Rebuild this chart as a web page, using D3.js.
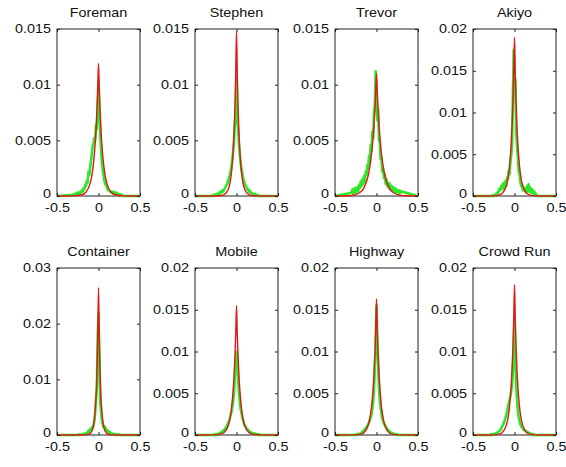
<!DOCTYPE html>
<html>
  <head>
    <style>
      body {
        margin: 0;
        background: #fff;
      }
      svg {
        display: block;
        font-family: "Liberation Sans", Arial, sans-serif;
      }
      .box {
        fill: #fff;
        stroke: #222;
        stroke-width: 1px;
      }
      .hist {
        fill: none;
        stroke: #2be82b;
        stroke-width: 2.6px;
        stroke-linejoin: round;
      }
      .fit {
        fill: none;
        stroke: #e01818;
        stroke-width: 1.4px;
      }
      .axis path {
        display: none;
      }
      .axis line {
        stroke: #222;
      }
      .axis text {
        font-size: 12px;
        fill: #111;
      }
      .title {
        font-size: 12px;
        fill: #111;
      }
    </style>
  </head>
  <body>
    <script src="https://d3js.org/d3.v7.min.js"></script>
    <script>
      const W = 566, H = 467;

      const titles = ["Foreman", "Stephen", "Trevor", "Akiyo", "Container", "Mobile", "Highway", "Crowd Run"];
      const yMax = [0.015, 0.015, 0.015, 0.02, 0.03, 0.02, 0.02, 0.02];
      const yStep = [0.005, 0.005, 0.005, 0.005, 0.01, 0.005, 0.005, 0.005];
      const xTicks = [-0.5, 0, 0.5];

      // histogram bins: -0.30 .. 0.30 in steps of 0.01, values in units of 1e-4
      const binX = d3.range(-30, 31).map(i => i / 100);

      const foremanHist = [1,2,1,2,3,2,3,2,4,3, 5,4,7,6,10,9,14,12,22,19, 26,31,38,45,47,52,50,64,60,82, 104,
        80,58,42,31,24,19,14,11,10, 8,6,5,5,4,4,3,3,4,2, 3,2,3,1,2,1,1,1,1,0,0];
      const stephenHist = [0,0,1,0,1,1,2,1,2,3, 2,4,3,5,4,6,7,8,10,11, 14,16,19,23,27,33,40,50,64,72, 106,
        66,60,46,37,30,24,20,16,13, 11,9,8,6,6,4,5,3,3,2, 2,1,2,1,1,0,1,0,0,0,0];
      const trevorHist = [3,6,2,5,7,3,6,8,4,10, 7,13,9,15,11,18,13,22,19,28, 24,36,30,46,40,58,52,74,82,112, 92,
        68,78,50,48,33,34,22,25,16, 20,11,15,9,12,7,11,6,9,5, 8,4,7,3,6,4,5,2,5,3,4];
      const akiyoHist = [0,0,0,0,1,0,1,2,1,4, 3,6,9,7,12,10,15,8,14,18, 12,22,20,30,26,40,48,62,115,175, 142,
        140,75,62,48,30,26,18,12,14, 7,10,6,9,4,12,6,14,5,10, 4,8,3,6,2,4,1,1,0,0,0];
      const containerHist = [0,0,0,0,0,0,1,0,0,1, 1,1,2,1,3,2,4,5,8,6, 10,9,14,12,18,25,40,65,82,175, 218,
        150,60,45,28,20,14,16,10,12, 7,8,5,6,3,4,2,2,1,2, 1,0,1,0,0,1,0,0,0,0,0];
      const mobileHist = [0,0,0,0,1,0,1,1,1,2, 2,3,3,4,5,6,7,9,10,12, 14,17,20,24,28,33,41,52,68,85, 100,
        86,66,50,40,31,26,21,17,14, 11,10,8,7,6,5,4,3,3,2, 2,1,2,1,1,1,0,1,0,0,0];
      const highwayHist = [0,0,0,0,0,1,0,1,1,1, 2,2,3,3,5,5,7,8,10,11, 13,15,18,21,25,32,40,55,80,110, 155,
        112,82,56,42,33,26,20,16,14, 12,10,9,7,6,5,4,3,3,2, 2,1,1,1,0,1,0,0,0,0,0];
      const crowdHist = [0,0,1,0,1,1,1,2,2,3, 3,4,5,6,8,10,12,14,17,20, 24,28,33,38,42,46,52,60,75,98, 140,
        92,60,42,30,22,17,13,11,9, 8,6,6,5,4,4,3,3,2,2, 1,1,0,1,0,0,0,0,0,0,0];

      // fitted curve, sampled at fitX, values in units of 1e-4
      const fitX = [-0.5, -0.3, -0.2, -0.15, -0.1, -0.08, -0.06, -0.04, -0.03, -0.02, -0.01, 0,
        0.01, 0.02, 0.03, 0.04, 0.06, 0.08, 0.1, 0.15, 0.2, 0.3, 0.5];
      const foremanFit = [0, 0.1, 1.1, 3.6, 11.6, 18.5, 29.5, 47, 59, 75, 94, 119, 94, 75, 59, 47, 29.5, 18.5, 11.6, 3.6, 1.1, 0.1, 0];
      const stephenFit = [0, 0, 0.2, 1.2, 5.9, 11.2, 21.4, 41, 56, 78, 107, 148, 107, 78, 56, 41, 21.4, 11.2, 5.9, 1.2, 0.2, 0, 0];
      const trevorFit = [0, 0.5, 3.1, 7.5, 18.4, 26.4, 37.7, 54, 64, 77, 92, 110, 92, 77, 64, 54, 37.7, 26.4, 18.4, 7.5, 3.1, 0.5, 0];
      const akiyoFit = [0, 0, 0.7, 2.9, 11.8, 20.6, 36, 62, 83, 109, 144, 190, 144, 109, 83, 62, 36, 20.6, 11.8, 2.9, 0.7, 0, 0];
      const containerFit = [0, 0, 0, 0.3, 2.8, 7.0, 17.3, 43, 68, 107, 168, 265, 168, 107, 68, 43, 17.3, 7.0, 2.8, 0.3, 0, 0, 0];
      const mobileFit = [0, 0.1, 0.8, 3.0, 11.1, 18.9, 32, 54, 70, 92, 119, 155, 119, 92, 70, 54, 32, 18.9, 11.1, 3.0, 0.8, 0.1, 0];
      const highwayFit = [0, 0.1, 0.8, 3.1, 11.7, 19.9, 33.6, 57, 74, 96, 125, 163, 125, 96, 74, 57, 33.6, 19.9, 11.7, 3.1, 0.8, 0.1, 0];
      const crowdFit = [0, 0, 0.7, 2.8, 11.2, 19.5, 34, 59, 78, 103, 136, 180, 136, 103, 78, 59, 34, 19.5, 11.2, 2.8, 0.7, 0, 0];

      const hists = [foremanHist, stephenHist, trevorHist, akiyoHist, containerHist, mobileHist, highwayHist, crowdHist];
      const fits = [foremanFit, stephenFit, trevorFit, akiyoFit, containerFit, mobileFit, highwayFit, crowdFit];

      const panelLeft = [57, 195, 335, 473],
          panelTop = [29, 268],
          pw = 83,
          ph = 167,
          stretch = "scale(1.2,1)";

      const svg = d3.select("body").append("svg")
          .attr("width", W)
          .attr("height", H);

      const fmt = v => String(+v.toFixed(3));

      titles.forEach((title, i) => {
        const col = i % 4, row = Math.floor(i / 4);
        const g = svg.append("g")
            .attr("transform", `translate(${panelLeft[col]},${panelTop[row]})`);

        const x = d3.scaleLinear().domain([-0.5, 0.5]).range([0, pw]);
        const y = d3.scaleLinear().domain([0, yMax[i]]).range([ph, 0]);
        const yTicks = d3.range(0, yMax[i] + 1e-9, yStep[i]);

        g.append("rect")
            .attr("class", "box")
            .attr("width", pw)
            .attr("height", ph);

        const histPts = [[-0.5, 0]].concat(binX.map((b, k) => [b, hists[i][k] * 1e-4]), [[0.5, 0]]);
        const fitPts = fitX.map((b, k) => [b, fits[i][k] * 1e-4]);

        const line = d3.line()
            .x(d => x(d[0]))
            .y(d => y(d[1]));

        g.append("path")
            .attr("class", "hist")
            .attr("d", line(histPts));

        g.append("path")
            .attr("class", "fit")
            .attr("d", line.curve(d3.curveMonotoneX)(fitPts));

        // axes with inward ticks, mirrored on top and right
        g.append("g")
            .attr("class", "axis")
            .call(d3.axisLeft(y).tickValues(yTicks).tickFormat(fmt)
                .tickSizeInner(-3).tickSizeOuter(0).tickPadding(5))
            .selectAll("text")
            .attr("transform", stretch)
            .attr("dy", d => d === 0 ? "0.12em" : "0.32em");

        g.append("g")
            .attr("class", "axis")
            .attr("transform", `translate(${pw},0)`)
            .call(d3.axisRight(y).tickValues(yTicks).tickFormat("")
                .tickSizeInner(-3).tickSizeOuter(0));

        g.append("g")
            .attr("class", "axis")
            .attr("transform", `translate(0,${ph})`)
            .call(d3.axisBottom(x).tickValues(xTicks).tickFormat(fmt)
                .tickSizeInner(-3).tickSizeOuter(0).tickPadding(7))
            .selectAll("text")
            .attr("transform", stretch);

        g.append("g")
            .attr("class", "axis")
            .call(d3.axisTop(x).tickValues(xTicks).tickFormat("")
                .tickSizeInner(-3).tickSizeOuter(0));

        g.append("text")
            .attr("class", "title")
            .attr("text-anchor", "middle")
            .attr("transform", `translate(${pw / 2},-12) ${stretch}`)
            .text(title);
      });
    </script>
  </body>
</html>
